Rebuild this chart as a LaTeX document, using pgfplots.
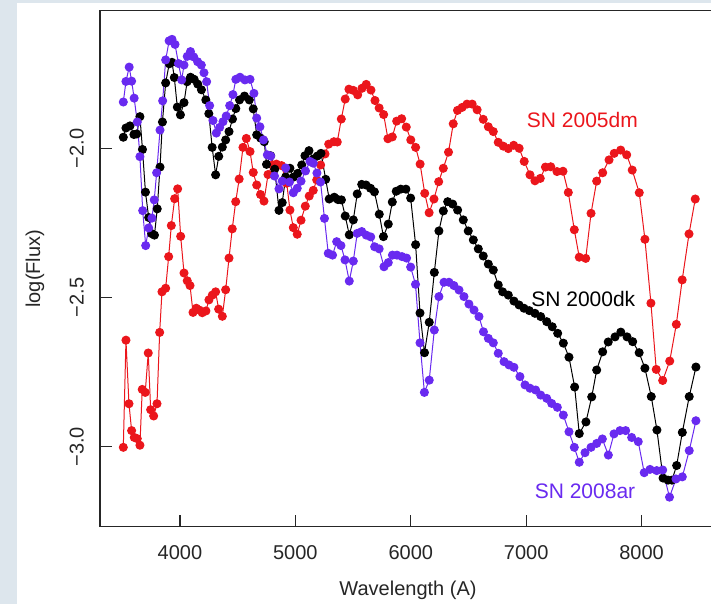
\documentclass[border=0pt]{standalone}
\usepackage{fontspec}
\setmainfont{Liberation Sans}
\usepackage{pgfplots}
\usepackage{pgfplotstable}
\pgfplotsset{compat=1.18}
\definecolor{snred}{RGB}{235,22,28}
\definecolor{snblue}{RGB}{105,42,240}
\definecolor{panel}{RGB}{221,230,237}

% SN 2005dm
\pgfplotstableread{
lam flux
3509 -3.002
3532 -2.643
3558 -2.856
3581 -2.946
3604 -2.969
3630 -2.973
3653 -2.995
3673 -2.808
3699 -2.818
3725 -2.686
3746 -2.876
3772 -2.897
3801 -2.856
3824 -2.617
3844 -2.481
3876 -2.469
3902 -2.363
3925 -2.259
3954 -2.169
3980 -2.136
4006 -2.295
4035 -2.418
4063 -2.444
4087 -2.460
4113 -2.550
4141 -2.536
4167 -2.542
4193 -2.551
4225 -2.545
4251 -2.508
4280 -2.492
4309 -2.481
4335 -2.539
4367 -2.563
4396 -2.474
4425 -2.368
4453 -2.270
4483 -2.179
4513 -2.103
4546 -1.997
4575 -1.967
4607 -2.011
4635 -2.081
4665 -2.123
4698 -2.155
4728 -2.177
4763 -2.088
4802 -2.056
4836 -2.053
4880 -2.058
4925 -2.117
4953 -2.207
4982 -2.266
5016 -2.288
5049 -2.241
5086 -2.194
5120 -2.160
5155 -2.141
5185 -2.106
5219 -2.056
5257 -2.019
5289 -1.986
5334 -1.978
5363 -1.979
5398 -1.902
5432 -1.835
5464 -1.802
5502 -1.806
5540 -1.821
5577 -1.799
5614 -1.786
5655 -1.805
5690 -1.840
5726 -1.865
5765 -1.887
5802 -1.968
5840 -1.962
5878 -1.909
5921 -1.901
5961 -1.929
6000 -1.972
6042 -1.997
6081 -2.053
6121 -2.151
6159 -2.216
6201 -2.170
6242 -2.112
6282 -2.067
6327 -2.013
6368 -1.918
6405 -1.873
6445 -1.863
6487 -1.852
6532 -1.852
6575 -1.871
6628 -1.903
6672 -1.928
6715 -1.944
6758 -1.980
6802 -1.993
6845 -2.001
6892 -1.990
6939 -2.000
6983 -2.044
7033 -2.089
7076 -2.109
7122 -2.101
7167 -2.063
7213 -2.062
7267 -2.078
7319 -2.077
7365 -2.148
7417 -2.273
7460 -2.365
7516 -2.369
7562 -2.218
7611 -2.110
7663 -2.082
7718 -2.039
7763 -2.017
7819 -2.006
7871 -2.022
7919 -2.073
7980 -2.149
8029 -2.305
8081 -2.519
8127 -2.741
8183 -2.778
8244 -2.713
8301 -2.590
8352 -2.441
8411 -2.287
8465 -2.170
}\dm

% SN 2000dk
\pgfplotstableread{
lam flux
3509 -1.963
3532 -1.932
3567 -1.925
3601 -1.954
3625 -1.952
3653 -1.894
3675 -2.004
3701 -2.147
3729 -2.232
3755 -2.286
3779 -2.291
3803 -2.203
3827 -2.063
3848 -1.912
3876 -1.781
3907 -1.717
3931 -1.712
3951 -1.763
3977 -1.862
4004 -1.888
4035 -1.847
4062 -1.777
4091 -1.762
4123 -1.769
4154 -1.785
4186 -1.804
4224 -1.838
4250 -1.884
4279 -1.997
4309 -2.089
4336 -2.027
4367 -1.996
4396 -1.972
4425 -1.944
4455 -1.902
4484 -1.867
4516 -1.838
4559 -1.825
4601 -1.838
4635 -1.868
4665 -1.955
4699 -1.966
4730 -1.978
4750 -2.054
4786 -2.025
4821 -2.070
4858 -2.208
4886 -2.182
4916 -2.096
4953 -2.067
4982 -2.097
5020 -2.084
5055 -2.056
5083 -2.025
5118 -2.008
5155 -2.036
5190 -2.026
5222 -2.017
5263 -2.104
5293 -2.170
5337 -2.164
5369 -2.172
5399 -2.173
5432 -2.227
5467 -2.290
5502 -2.240
5536 -2.153
5575 -2.121
5612 -2.123
5651 -2.134
5685 -2.146
5727 -2.221
5763 -2.296
5805 -2.254
5840 -2.180
5874 -2.144
5913 -2.137
5958 -2.137
5999 -2.167
6042 -2.323
6080 -2.552
6119 -2.685
6160 -2.583
6204 -2.416
6244 -2.277
6282 -2.210
6320 -2.179
6363 -2.187
6406 -2.207
6455 -2.240
6498 -2.277
6542 -2.307
6585 -2.337
6628 -2.361
6672 -2.388
6715 -2.408
6758 -2.458
6796 -2.481
6845 -2.492
6894 -2.512
6938 -2.525
6981 -2.536
7027 -2.544
7076 -2.553
7126 -2.564
7178 -2.581
7226 -2.598
7273 -2.620
7322 -2.653
7371 -2.700
7420 -2.800
7460 -2.956
7518 -2.917
7568 -2.833
7611 -2.743
7663 -2.682
7711 -2.649
7770 -2.632
7820 -2.616
7874 -2.632
7923 -2.648
7979 -2.685
8029 -2.737
8084 -2.832
8133 -2.944
8186 -3.105
8229 -3.112
8263 -3.112
8304 -3.063
8353 -2.952
8413 -2.832
8471 -2.733
}\dk

% SN 2008ar
\pgfplotstableread{
lam flux
3509 -1.845
3532 -1.776
3560 -1.728
3581 -1.775
3603 -1.832
3630 -1.912
3653 -2.028
3677 -2.209
3703 -2.326
3729 -2.267
3757 -2.234
3777 -2.173
3798 -2.082
3827 -1.939
3850 -1.841
3876 -1.704
3906 -1.640
3931 -1.635
3957 -1.652
3987 -1.716
4015 -1.771
4035 -1.721
4063 -1.692
4091 -1.676
4119 -1.694
4153 -1.710
4185 -1.721
4208 -1.747
4231 -1.777
4257 -1.857
4286 -1.907
4315 -1.949
4344 -1.930
4373 -1.911
4401 -1.892
4431 -1.857
4459 -1.820
4484 -1.769
4520 -1.762
4563 -1.771
4607 -1.769
4641 -1.816
4665 -1.899
4693 -1.928
4724 -1.972
4757 -2.022
4786 -2.026
4819 -2.093
4858 -2.136
4886 -2.110
4916 -2.066
4949 -2.113
4982 -2.149
5016 -2.134
5049 -2.110
5088 -2.076
5127 -2.044
5155 -2.050
5187 -2.083
5218 -2.113
5252 -2.235
5285 -2.352
5322 -2.358
5358 -2.313
5395 -2.326
5430 -2.374
5467 -2.445
5502 -2.378
5536 -2.285
5575 -2.279
5614 -2.291
5653 -2.297
5687 -2.330
5726 -2.337
5768 -2.397
5805 -2.383
5841 -2.358
5880 -2.358
5924 -2.363
5964 -2.368
5999 -2.398
6041 -2.456
6080 -2.652
6118 -2.818
6160 -2.777
6204 -2.609
6244 -2.497
6288 -2.449
6331 -2.449
6374 -2.460
6418 -2.475
6461 -2.497
6504 -2.522
6548 -2.542
6591 -2.564
6630 -2.615
6672 -2.637
6715 -2.652
6758 -2.687
6808 -2.715
6851 -2.726
6894 -2.734
6946 -2.765
6990 -2.793
7033 -2.804
7082 -2.810
7126 -2.827
7178 -2.838
7221 -2.855
7270 -2.868
7322 -2.894
7371 -2.950
7417 -3.002
7460 -3.052
7510 -3.020
7562 -3.002
7611 -2.989
7660 -2.974
7712 -3.028
7761 -2.957
7813 -2.946
7862 -2.946
7914 -2.969
7971 -2.983
8023 -3.087
8073 -3.076
8131 -3.080
8183 -3.078
8242 -3.169
8298 -3.108
8353 -3.101
8413 -3.013
8471 -2.913
}\ar

\begin{document}
\begin{tikzpicture}[x=1pt,y=1pt]
\useasboundingbox (0,0) rectangle (355.5,302);
\fill[white] (0,0) rectangle (355.5,302);
\fill[panel] (0,0) rectangle (8.5,302);
\fill[panel] (0,300.5) rectangle (355.5,302);
\begin{axis}[
    at={(50pt,38.65pt)}, anchor=south west,
    scale only axis,
    width=308pt, height=258pt,
    xmin=3307, xmax=8645,
    ymin=-3.268, ymax=-1.539,
    xtick={4000,5000,6000,7000,8000},
    xticklabels={4000,5000,6000,7000,8000},
    ytick={-3,-2.5,-2},
    yticklabels={−3.0,−2.5,−2.0},
    xtick pos=bottom, ytick pos=left,
    tick align=inside,
    major tick length=6pt,
    axis line style={line width=0.6pt, black!85},
    tick style={line width=0.6pt, black!85},
    tick label style={font=\fontsize{10}{12}\selectfont, text=black!85},
    xticklabel shift=5.8pt,
    yticklabel style={rotate=90, anchor=south},
    yticklabel shift=4.6pt,
    every axis x label/.style={at={(axis description cs:0.5,-0.1227)}, anchor=center, font=\fontsize{10}{12}\selectfont, text=black!85},
    every axis y label/.style={at={(axis description cs:-0.1055,0.5)}, rotate=90, anchor=center, font=\fontsize{10}{12}\selectfont, text=black!85},
    xlabel={Wavelength (A)},
    ylabel={log(Flux)},
    clip=false,
]
\addplot[snred, line width=0.5pt, mark=*, mark size=2pt, mark options={fill=snred, draw=snred}] table[x=lam, y=flux] {\dm};
\addplot[black, line width=0.5pt, mark=*, mark size=2pt, mark options={fill=black, draw=black}] table[x=lam, y=flux] {\dk};
\addplot[snblue, line width=0.5pt, mark=*, mark size=2pt, mark options={fill=snblue, draw=snblue}] table[x=lam, y=flux] {\ar};
\node[snred, anchor=base, font=\fontsize{10.5}{12}\selectfont] at (axis cs:7487,-1.932) {SN 2005dm};
\node[black, anchor=base, font=\fontsize{10.5}{12}\selectfont] at (axis cs:7495,-2.531) {SN 2000dk};
\node[snblue, anchor=base, font=\fontsize{10.5}{12}\selectfont] at (axis cs:7510,-3.173) {SN 2008ar};
\end{axis}
\end{tikzpicture}
\end{document}
